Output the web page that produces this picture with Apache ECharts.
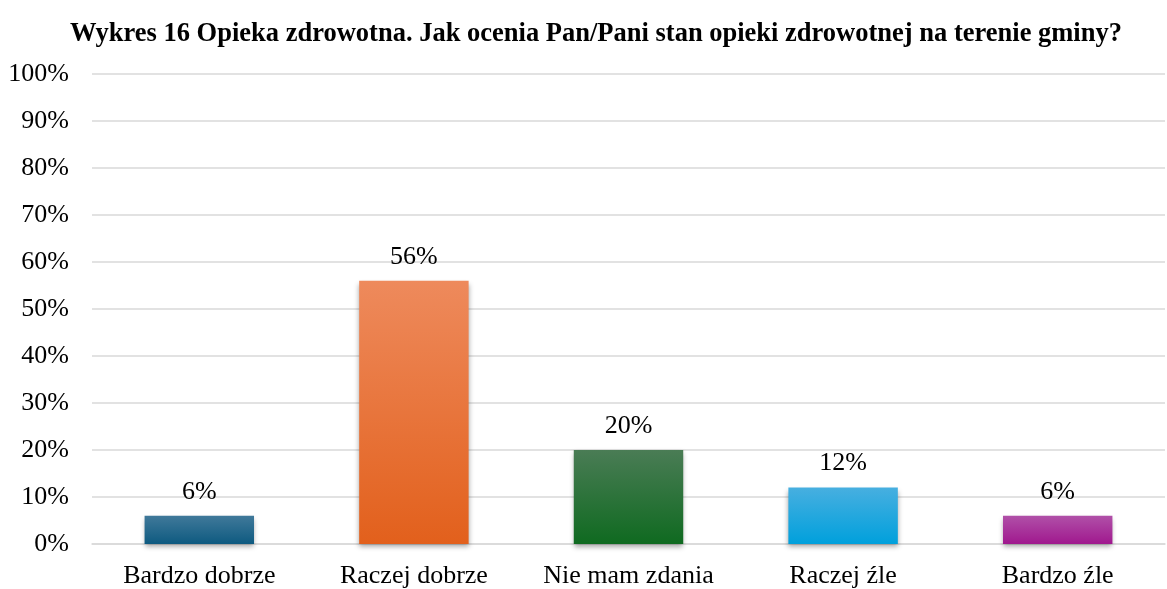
<!DOCTYPE html>
<html><head><meta charset="utf-8">
<script src="https://cdn.jsdelivr.net/npm/echarts@6/dist/echarts.min.js"></script>
<style>html,body{margin:0;padding:0;background:#fff}#c{width:1167px;height:589px}</style>
</head><body><div id="c"></div>
<script>
const title = 'Wykres 16 Opieka zdrowotna. Jak ocenia Pan/Pani stan opieki zdrowotnej na terenie gminy?';
const categories = ['Bardzo dobrze', 'Raczej dobrze', 'Nie mam zdania', 'Raczej źle', 'Bardzo źle'];
const values = [6, 56, 20, 12, 6];
const topColors = ['#40799a', '#ee8a5c', '#4a7c55', '#47afe0', '#b050a8'];
const bottomColors = ['#0e5a80', '#e2601c', '#0f6a20', '#00a0dc', '#a0188e'];
const F = '"Liberation Serif","Times New Roman",serif';
const chart = echarts.init(document.getElementById('c'));
chart.setOption({
  animation: false,
  title: {text: title, left: 65, top: 16, textStyle: {fontFamily: F, fontWeight: 'bold', fontSize: 26.5, color: '#000'}},
  grid: {left: 92, right: 2, top: 74, bottom: 42, containLabel: false},
  xAxis: {type: 'category', data: categories,
    axisLine: {show: true, lineStyle: {color: '#d9d9d9', width: 1.5}}, axisTick: {show: false},
    axisLabel: {fontFamily: F, fontSize: 26, color: '#000', margin: 19, interval: 0}},
  yAxis: {type: 'value', min: 0, max: 100, interval: 10,
    axisLine: {show: false}, axisTick: {show: false},
    splitLine: {lineStyle: {color: '#d9d9d9', width: 1.5}},
    axisLabel: {fontFamily: F, fontSize: 26, color: '#000', margin: 23, formatter: '{value}%'}},
  series: [{type: 'bar', barWidth: '51%',
    data: values.map((v, i) => ({value: v, itemStyle: {color: new echarts.graphic.LinearGradient(0, 0, 0, 1, [{offset: 0, color: topColors[i]}, {offset: 1, color: bottomColors[i]}]),
      shadowColor: 'rgba(0,0,0,0.35)', shadowBlur: 5, shadowOffsetY: 3}})),
    label: {show: true, position: 'top', distance: 11, fontFamily: F, fontSize: 26, color: '#000', formatter: '{c}%'}}]
});
</script></body></html>
